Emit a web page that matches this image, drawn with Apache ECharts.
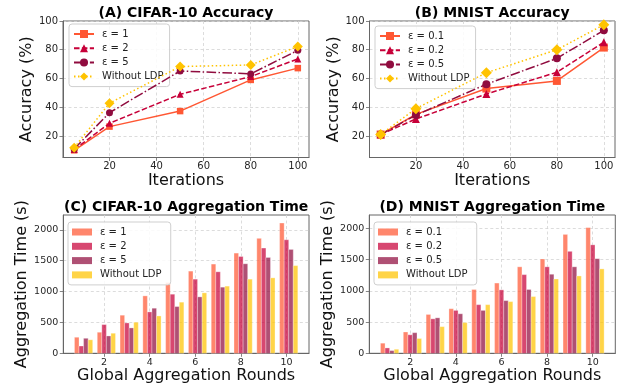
<!DOCTYPE html>
<html>
<head>
<meta charset="utf-8">
<script src="https://cdn.jsdelivr.net/npm/echarts@6/dist/echarts.min.js"></script>
<style>
html,body{margin:0;padding:0;background:#fff;}
#c{width:625px;height:388px;}
</style>
</head>
<body>
<div id="c"></div>
<script>
// ---------- DATA ----------
const iterations = [5, 20, 50, 80, 100];
const cifarAccEps1 = [10, 26.5, 37.3, 59, 67.2];
const cifarAccEps2 = [10.5, 28.8, 49, 61.3, 73.6];
const cifarAccEps5 = [11, 36.2, 65.2, 63.2, 79.6];
const cifarAccNoLDP = [11.8, 42.8, 68.3, 69.4, 82.3];

const mnistAccEps01 = [21, 35, 53, 58.3, 81.5];
const mnistAccEps02 = [21, 31.8, 49.2, 64.3, 85.2];
const mnistAccEps05 = [21, 34.5, 56, 74, 93.5];
const mnistAccNoLDP = [21, 39, 64, 80, 97.4];

const rounds = [1, 2, 3, 4, 5, 6, 7, 8, 9, 10];
const cifarTimeEps1 = [260, 341, 617, 930, 1146, 1331, 1445, 1623, 1862, 2110];
const cifarTimeEps2 = [118, 465, 492, 670, 957, 1201, 1320, 1568, 1705, 1839];
const cifarTimeEps5 = [243, 281, 411, 730, 757, 914, 1071, 1450, 1552, 1682];
const cifarTimeNoLDP = [219, 325, 503, 605, 828, 979, 1088, 1201, 1222, 1420];

const mnistTimeEps01 = [162, 341, 622, 714, 1022, 1125, 1385, 1510, 1904, 2013];
const mnistTimeEps02 = [86, 297, 552, 687, 779, 1016, 1260, 1385, 1633, 1737];
const mnistTimeEps05 = [43, 330, 568, 633, 687, 844, 1022, 1266, 1385, 1515];
const mnistTimeNoLDP = [65, 237, 427, 492, 779, 828, 909, 1190, 1239, 1352];

const accTicks = [20, 40, 60, 80, 100];
const iterTicks = [20, 40, 60, 80, 100];
const timeTicks = [0, 500, 1000, 1500, 2000];
const roundTicks = [2, 4, 6, 8, 10];

const cifarLabels = ['ε = 1', 'ε = 2', 'ε = 5', 'Without LDP'];
const mnistLabels = ['ε = 0.1', 'ε = 0.2', 'ε = 0.5', 'Without LDP'];
const titles = ['(A) CIFAR-10 Accuracy', '(B) MNIST Accuracy', '(C) CIFAR-10 Aggregation Time', '(D) MNIST Aggregation Time'];

// ---------- STYLE ----------
const FONT = "'DejaVu Sans', sans-serif";
const lineColors = ['#FF5733', '#C70039', '#900C3F', '#FFC300'];
const barColors = ['rgba(255,87,51,0.72)', 'rgba(199,0,57,0.72)', 'rgba(144,12,63,0.72)', 'rgba(255,195,0,0.72)'];
const symbols = ['rect', 'triangle', 'circle', 'diamond'];
const dashes = ['solid', [5.5, 2.4], [9.6, 2.4, 1.5, 2.4], [1.5, 2.5]];
const barOffsets = [-0.2, 0, 0.2, 0.4];

const grids = [
  {left: 63, top: 21, width: 246, height: 136.5},
  {left: 369.5, top: 21, width: 245.5, height: 136.5},
  {left: 63.3, top: 215, width: 245.7, height: 138.3},
  {left: 369.3, top: 215, width: 246, height: 138.3}
];

const spine = '#666';
function plain(v) { return String(v); }
function axisCommon(fontSize) {
  return {
    axisLine: {show: true, onZero: false, lineStyle: {color: spine, width: 1}},
    axisTick: {show: true, length: 3.5, lineStyle: {color: spine, width: 0.8}},
    axisLabel: {fontFamily: FONT, fontSize: fontSize, color: '#262626', margin: 5, formatter: plain},
    splitLine: {show: true, lineStyle: {color: '#d3d3d3', type: [3, 2.5], width: 0.8}},
    nameTextStyle: {fontFamily: FONT, fontSize: 16, color: '#111'},
    nameLocation: 'middle'
  };
}
function mergeDeep(a, b) {
  const out = Object.assign({}, a);
  for (const k in b) {
    if (b[k] && typeof b[k] === 'object' && !Array.isArray(b[k]) && a[k] && typeof a[k] === 'object') out[k] = mergeDeep(a[k], b[k]);
    else out[k] = b[k];
  }
  return out;
}

const xAxes = [], yAxes = [];
// A, B accuracy
for (let g = 0; g < 2; g++) {
  xAxes.push(mergeDeep(axisCommon(10), {
    type: 'value', gridIndex: g, min: 0.25, max: 104.75, name: 'Iterations', nameGap: 15,
    axisTick: {customValues: iterTicks}, axisLabel: {customValues: iterTicks, margin: 4}
  }));
  yAxes.push(mergeDeep(axisCommon(10), {
    type: 'value', gridIndex: g, min: 5, max: 100, name: 'Accuracy (%)', nameGap: 27,
    axisTick: {customValues: accTicks}, axisLabel: {customValues: accTicks}
  }));
}
// C, D time
const timeMax = [2240, 2215];
for (let g = 2; g < 4; g++) {
  xAxes.push(mergeDeep(axisCommon(9.5), {
    type: 'value', gridIndex: g, min: 0.21, max: 10.99, name: 'Global Aggregation Rounds', nameGap: 15,
    axisTick: {customValues: roundTicks}, axisLabel: {customValues: roundTicks, margin: 4}
  }));
  yAxes.push(mergeDeep(axisCommon(9.5), {
    type: 'value', gridIndex: g, min: 0, max: timeMax[g - 2], name: 'Aggregation Time (s)', nameGap: 33,
    axisTick: {customValues: timeTicks}, axisLabel: {customValues: timeTicks}
  }));
}

const series = [];
const cifarAcc = [cifarAccEps1, cifarAccEps2, cifarAccEps5, cifarAccNoLDP];
const mnistAcc = [mnistAccEps01, mnistAccEps02, mnistAccEps05, mnistAccNoLDP];
const symSizesA = [6.5, 7, 7, 10];
const symSizesB = [8, 8, 8, 11];
function lineSeries(name, vals, i, g, sizes) {
  return {
    type: 'line', name: name, xAxisIndex: g, yAxisIndex: g,
    data: iterations.map((x, k) => [x, vals[k]]),
    symbol: symbols[i], symbolSize: sizes[i],
    lineStyle: {color: lineColors[i], width: 1.5, type: dashes[i]},
    itemStyle: {color: lineColors[i]},
    z: 3 + i, animation: false
  };
}
cifarAcc.forEach((v, i) => series.push(lineSeries(cifarLabels[i], v, i, 0, symSizesA)));
mnistAcc.forEach((v, i) => series.push(lineSeries(mnistLabels[i], v, i, 1, symSizesB)));

const cifarTime = [cifarTimeEps1, cifarTimeEps2, cifarTimeEps5, cifarTimeNoLDP];
const mnistTime = [mnistTimeEps01, mnistTimeEps02, mnistTimeEps05, mnistTimeNoLDP];
function barSeries(name, vals, i, g) {
  return {
    type: 'custom', name: name, xAxisIndex: g, yAxisIndex: g,
    data: rounds.map((r, k) => [r + barOffsets[i], vals[k]]),
    encode: {x: 0, y: 1},
    itemStyle: {color: barColors[i]},
    animation: false,
    renderItem: function (params, api) {
      const x = api.value(0), v = api.value(1);
      const p0 = api.coord([x - 0.1, v]);
      const p1 = api.coord([x + 0.1, 0]);
      return {
        type: 'rect',
        shape: {x: p0[0], y: p0[1], width: p1[0] - p0[0], height: p1[1] - p0[1]},
        style: {fill: barColors[i], stroke: 'rgba(255,255,255,0.5)', lineWidth: 0.6}
      };
    }
  };
}
cifarTime.forEach((v, i) => series.push(barSeries(cifarLabels[i] + ' ', v, i, 2)));
mnistTime.forEach((v, i) => series.push(barSeries(mnistLabels[i] + ' ', v, i, 3)));

function legend(names, left, top, isBar) {
  return {
    orient: 'vertical', left: left, top: top,
    data: names.map((n, i) => isBar ? {name: n + ' ', icon: 'rect', itemStyle: {color: barColors[i]}} : {name: n}),
    itemWidth: 20, itemHeight: isBar ? 7 : 10, itemGap: isBar ? 4.3 : 4.2,
    padding: [5, 6, 5, 4],
    borderColor: '#cfcfcf', borderWidth: 1, borderRadius: 3,
    backgroundColor: 'rgba(255,255,255,0.85)',
    textStyle: {fontFamily: FONT, fontSize: 10, color: '#222', padding: [0, 0, 0, 3]},
    selectedMode: false
  };
}

const graphics = titles.map((t, g) => ({
  type: 'text',
  style: {
    text: t, x: grids[g].left + grids[g].width / 2, y: grids[g].top - 8,
    textAlign: 'center', textVerticalAlign: 'middle',
    font: "bold 14px 'DejaVu Sans', sans-serif", fill: '#000'
  },
  z: 100
}));

const option = {
  animation: false,
  grid: grids.map(g => Object.assign({containLabel: false, show: true, borderColor: spine, borderWidth: 1, backgroundColor: 'transparent'}, g)),
  xAxis: xAxes,
  yAxis: yAxes,
  legend: [
    legend(cifarLabels, 69, 24, false),
    legend(mnistLabels, 375, 26, false),
    legend(cifarLabels, 68, 222, true),
    legend(mnistLabels, 374, 222, true)
  ],
  graphic: graphics,
  series: series
};

const chart = echarts.init(document.getElementById('c'), null, {renderer: 'canvas'});
chart.setOption(option);
</script>
</body>
</html>
